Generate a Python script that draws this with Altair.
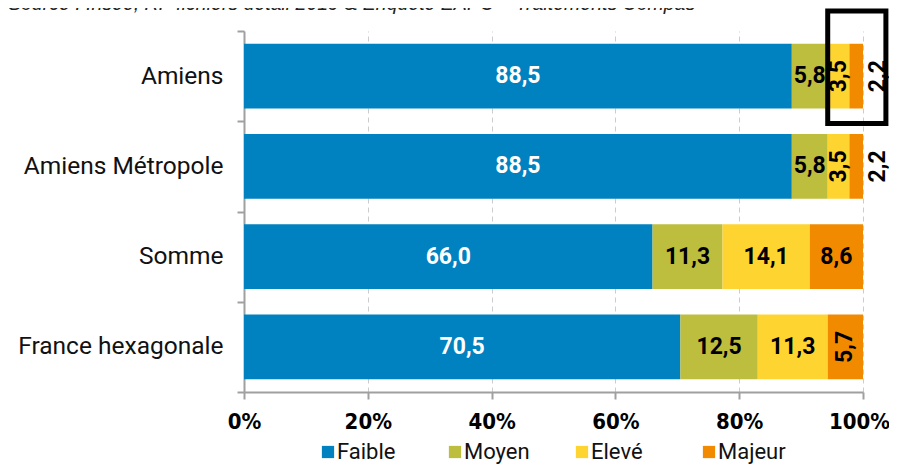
import altair as alt
import pandas as pd

regions = ["Amiens", "Amiens Métropole", "Somme", "France hexagonale"]
levels = ["Faible", "Moyen", "Elevé", "Majeur"]
faible = [88.5, 88.5, 66.0, 70.5]
moyen = [5.8, 5.8, 11.3, 12.5]
eleve = [3.5, 3.5, 14.1, 11.3]
majeur = [2.2, 2.2, 8.6, 5.7]
colors = ["#0081C0", "#BDBE3E", "#FED530", "#F28A00"]
x_ticks = [0, 20, 40, 60, 80, 100]
source_text = "Source : Insee, RP fichiers détail 2019 & Enquête EAPC – Traitements Compas"
box_from = [94.3]
box_to = [103.7]

series = [faible, moyen, eleve, majeur]
rows = []
for i, r in enumerate(regions):
    cum = 0.0
    for k, (lvl, vals) in enumerate(zip(levels, series)):
        v = vals[i]
        if lvl == "Faible":
            style = "white"
        elif v < 3:
            style = "outside"
        elif lvl in ("Elevé", "Majeur") and v < 6:
            style = "vertical"
        else:
            style = "black"
        rows.append(dict(region=r, level=lvl, order=k, value=v, x0=cum, x1=cum + v,
                         mid=cum + v / 2, label=f"{v:.1f}".replace(".", ","), style=style))
        cum += v
df = pd.DataFrame(rows)

y_scale = alt.Scale(domain=regions, paddingInner=0, paddingOuter=0)
y_enc = alt.Y("region:N", sort=regions, scale=y_scale,
              axis=alt.Axis(title=None, tickBand="extent", labelFont="Roboto", labelFontSize=24.5,
                            labelColor="#111111", labelPadding=14, tickSize=7, tickWidth=2,
                            domainWidth=2, domainColor="#a0a0a0", tickColor="#a0a0a0",
                            grid=False, labelLimit=400))

x_scale = alt.Scale(domain=[0, 100], nice=False)

bars = alt.Chart(df).mark_bar(height={"band": 0.72}).encode(
    x=alt.X("x0:Q", scale=x_scale,
            axis=alt.Axis(values=x_ticks, labelExpr="datum.value + '%'", title=None,
                          grid=True, gridDash=[5, 4], gridColor="#cccccc", gridWidth=1,
                          labelFlush=False,
                          labelOffset={"condition": {"test": "datum.value == 100", "value": -4},
                                       "value": 0},
                          labelFont="DejaVu Sans Condensed", labelFontWeight="bold",
                          labelFontSize=22, labelColor="#000000", labelPadding=12,
                          tickSize=7, tickWidth=2, domainWidth=2,
                          domainColor="#a0a0a0", tickColor="#a0a0a0")),
    x2="x1:Q",
    y=y_enc,
    color=alt.Color("level:N", scale=alt.Scale(domain=levels, range=colors),
                    legend=alt.Legend(title=None, orient="none", direction="horizontal",
                                      legendX=73, legendY=410, symbolType="square",
                                      symbolSize=150, symbolStrokeWidth=0,
                                      labelFont="Roboto", labelFontSize=22,
                                      labelColor="#111111", columnPadding=39,
                                      gridAlign="all",
                                      labelOffset={"expr": "-2"}, padding=0)),
)

def labels(style, color, **kw):
    return alt.Chart(df).transform_filter(alt.datum.style == style).mark_text(
        font="Roboto", fontWeight="bold", fontSize=23, color=color, **kw
    ).encode(
        x=alt.X("x1:Q" if style == "outside" else "mid:Q", scale=x_scale),
        y=alt.Y("region:N", sort=regions, scale=y_scale),
        text="label:N",
    )

lab_white = labels("white", "#ffffff")
lab_black = labels("black", "#000000")
lab_vert = labels("vertical", "#000000", angle=270)
lab_out = labels("outside", "#000000", angle=270, dy=15)

src = alt.Chart(pd.DataFrame({"t": [source_text]})).mark_text(
    font="Liberation Sans", fontStyle="italic", fontSize=19.5, align="left",
    baseline="alphabetic", color="#222222"
).encode(x=alt.value(-236), y=alt.value(-21), text="t:N")

box = alt.Chart(pd.DataFrame({"a": box_from, "b": box_to})).mark_rect(
    filled=False, stroke="#000000", strokeWidth=5
).encode(x=alt.X("a:Q", scale=x_scale), x2="b:Q", y=alt.value(-20), y2=alt.value(92.5))

chart = alt.layer(bars, lab_white, lab_black, lab_vert, lab_out, box, src).properties(
    width=619, height=361,
    padding={"left": 236, "top": 23, "right": 26, "bottom": 72},
    autosize=alt.AutoSizeParams(type="none"),
).configure_view(stroke=None)

chart.save("out.html", embed_options={"renderer": "svg", "actions": False})
